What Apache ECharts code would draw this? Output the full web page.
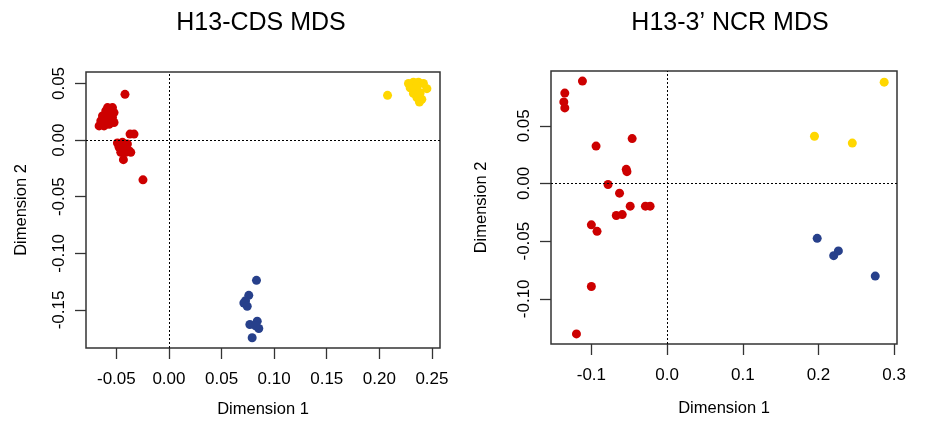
<!DOCTYPE html>
<html>
<head>
<meta charset="utf-8">
<script src="https://cdn.jsdelivr.net/npm/echarts@6/dist/echarts.min.js"></script>
<style>
  html, body { margin: 0; padding: 0; background: #ffffff; }
  #chart { width: 925px; height: 423px; }
</style>
</head>
<body>
<div id="chart"></div>
<script>
// ---- H13-CDS MDS coordinates: [Dimension 1, Dimension 2] ----
const cdsRed = [
  [-0.0418, 0.0404],
  [-0.0584, 0.0287], [-0.0537, 0.0287], [-0.0601, 0.0257], [-0.0553, 0.0257],
  [-0.0522, 0.0243], [-0.0632, 0.0213], [-0.0584, 0.0213], [-0.0537, 0.0199],
  [-0.0648, 0.0169], [-0.0601, 0.0169], [-0.0553, 0.0169], [-0.0522, 0.0155],
  [-0.0664, 0.0125], [-0.0617, 0.0125], [-0.0569, 0.0140],
  [-0.0370, 0.0053], [-0.0332, 0.0053],
  [-0.0490, -0.0026], [-0.0442, -0.0020], [-0.0395, -0.0035], [-0.0474, -0.0064],
  [-0.0427, -0.0079], [-0.0380, -0.0094], [-0.0458, -0.0108], [-0.0411, -0.0108],
  [-0.0363, -0.0108], [-0.0433, -0.0173],
  [-0.0247, -0.0351]
];
const cdsGold = [
  [0.2078, 0.0395],
  [0.2277, 0.0500], [0.2324, 0.0511], [0.2372, 0.0511], [0.2419, 0.0500],
  [0.2293, 0.0462], [0.2357, 0.0471], [0.2452, 0.0454], [0.2324, 0.0412],
  [0.2388, 0.0418], [0.2357, 0.0375], [0.2404, 0.0360], [0.2381, 0.0336]
];
const cdsBlue = [
  [0.0832, -0.1239], [0.0759, -0.1371], [0.0728, -0.1418], [0.0712, -0.1439],
  [0.0744, -0.1468], [0.0769, -0.1629], [0.0839, -0.1599], [0.0854, -0.1664],
  [0.0823, -0.1640], [0.0791, -0.1746]
];

// ---- H13-3' NCR MDS coordinates ----
const ncrRed = [
  [-0.1118, 0.0887], [-0.1351, 0.0783], [-0.1364, 0.0707], [-0.1351, 0.0655],
  [-0.0461, 0.0389], [-0.0938, 0.0324], [-0.0539, 0.0122], [-0.0530, 0.0102],
  [-0.0780, -0.0009], [-0.0628, -0.0084], [-0.0487, -0.0197], [-0.0286, -0.0197],
  [-0.0224, -0.0197], [-0.0671, -0.0278], [-0.0592, -0.0270], [-0.1000, -0.0359],
  [-0.0925, -0.0415], [-0.1000, -0.0893], [-0.1197, -0.1304]
];
const ncrGold = [
  [0.2868, 0.0878], [0.1947, 0.0409], [0.2447, 0.0350]
];
const ncrBlue = [
  [0.1983, -0.0476], [0.2263, -0.0585], [0.2201, -0.0626], [0.2750, -0.0803]
];

// ---- tick labels ----
const cdsXTicks = [-0.05, 0.00, 0.05, 0.10, 0.15, 0.20, 0.25];
const cdsYTicks = [-0.15, -0.10, -0.05, 0.00, 0.05];
const ncrXTicks = [-0.1, 0.0, 0.1, 0.2, 0.3];
const ncrYTicks = [-0.10, -0.05, 0.00, 0.05];

const panelTitles = ['H13-CDS MDS', 'H13-3\u2019 NCR MDS'];
const xName = 'Dimension 1';
const yName = 'Dimension 2';

const RED = '#CD0000', GOLD = '#FFD700', BLUE = '#27408B';
const FONT = '"Liberation Sans", Arial, Helvetica, sans-serif';
const INK = '#333333';

// Axis limits padded by 4% of the data span on each side
function paddedRange(groups, k) {
  const vals = groups.flat().map(p => p[k]);
  const lo = Math.min(...vals), hi = Math.max(...vals);
  const pad = (hi - lo) * 0.04;
  return [lo - pad, hi + pad];
}

const cdsX = paddedRange([cdsRed, cdsGold, cdsBlue], 0);
const cdsY = paddedRange([cdsRed, cdsGold, cdsBlue], 1);
const ncrX = paddedRange([ncrRed, ncrGold, ncrBlue], 0);
const ncrY = paddedRange([ncrRed, ncrGold, ncrBlue], 1);

function xAxisCfg(grid, range, ticks, digits, gap) {
  return {
    gridIndex: grid, type: 'value', min: range[0], max: range[1],
    splitLine: { show: false },
    axisLine: { show: false, onZero: false },
    axisTick: { show: true, inside: false, length: 11, customValues: ticks,
                lineStyle: { color: INK, width: 1.3 } },
    axisLabel: { customValues: ticks, formatter: v => v.toFixed(digits),
                 fontSize: 17, color: '#000', margin: 23, fontFamily: FONT },
    name: xName, nameLocation: 'middle', nameGap: gap,
    nameTextStyle: { fontSize: 16.5, color: '#000', fontFamily: FONT }
  };
}

function yAxisCfg(grid, range, ticks, digits, gap) {
  return {
    gridIndex: grid, type: 'value', min: range[0], max: range[1],
    splitLine: { show: false },
    axisLine: { show: false, onZero: false },
    axisTick: { show: true, inside: false, length: 11, customValues: ticks,
                lineStyle: { color: INK, width: 1.3 } },
    axisLabel: { customValues: ticks, formatter: v => v.toFixed(digits),
                 rotate: 90, fontSize: 17, color: '#000', margin: 18, fontFamily: FONT },
    name: yName, nameLocation: 'middle', nameGap: gap,
    nameTextStyle: { fontSize: 16.5, color: '#000', fontFamily: FONT }
  };
}

function points(grid, data, color) {
  return {
    type: 'scatter', xAxisIndex: grid, yAxisIndex: grid, data: data,
    symbol: 'circle', symbolSize: 9, z: 3,
    itemStyle: { color: color, opacity: 1 }
  };
}

// Dotted reference lines through the origin
function originLines(grid) {
  return {
    type: 'line', xAxisIndex: grid, yAxisIndex: grid, data: [], z: 1,
    markLine: {
      silent: true, symbol: 'none', animation: false,
      label: { show: false },
      lineStyle: { color: '#000', type: [2, 2], width: 1 },
      data: [{ xAxis: 0 }, { yAxis: 0 }]
    }
  };
}

const chart = echarts.init(document.getElementById('chart'), null, { renderer: 'canvas' });
chart.setOption({
  animation: false,
  backgroundColor: '#ffffff',
  title: [
    { text: panelTitles[0], left: 256, top: 6, textAlign: 'center',
      textStyle: { fontSize: 25, fontWeight: 'normal', color: '#000', fontFamily: FONT } },
    { text: panelTitles[1], left: 725, top: 6, textAlign: 'center',
      textStyle: { fontSize: 25, fontWeight: 'normal', color: '#000', fontFamily: FONT } }
  ],
  grid: [
    { left: 86, top: 72, width: 354, height: 278, show: true,
      borderColor: INK, borderWidth: 1.5, backgroundColor: 'transparent' },
    { left: 551, top: 71, width: 346, height: 273, show: true,
      borderColor: INK, borderWidth: 1.5, backgroundColor: 'transparent' }
  ],
  xAxis: [
    xAxisCfg(0, cdsX, cdsXTicks, 2, 53),
    xAxisCfg(1, ncrX, ncrXTicks, 1, 56)
  ],
  yAxis: [
    yAxisCfg(0, cdsY, cdsYTicks, 2, 56),
    yAxisCfg(1, ncrY, ncrYTicks, 2, 61)
  ],
  series: [
    originLines(0),
    points(0, cdsRed, RED),
    points(0, cdsGold, GOLD),
    points(0, cdsBlue, BLUE),
    originLines(1),
    points(1, ncrRed, RED),
    points(1, ncrGold, GOLD),
    points(1, ncrBlue, BLUE)
  ]
});
</script>
</body>
</html>
